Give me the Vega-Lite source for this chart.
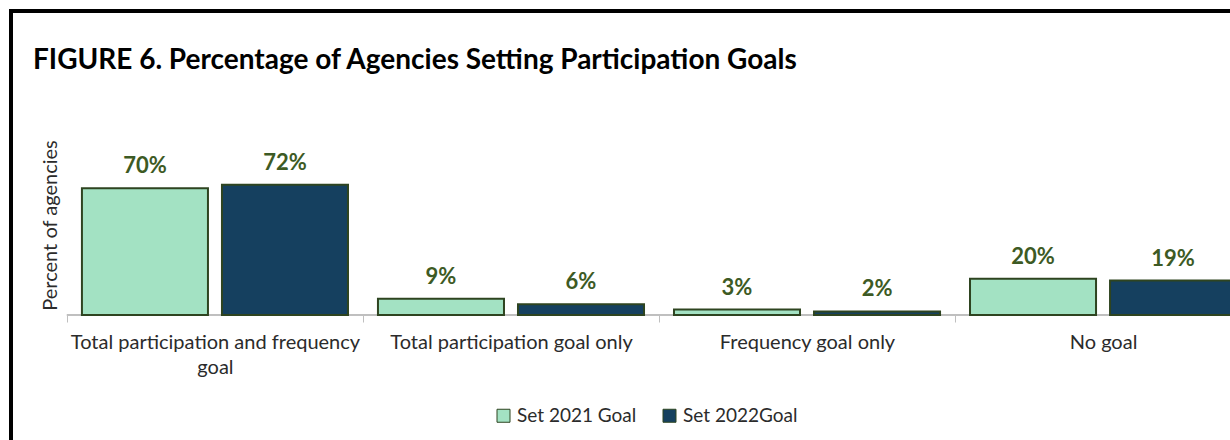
{
  "$schema": "https://vega.github.io/schema/vega-lite/v6.json",
  "width": 1296,
  "height": 440,
  "autosize": {"type": "none"},
  "padding": {"left": 11, "top": 11, "right": 0, "bottom": 0},
  "background": "white",
  "config": {
    "font": "Lato",
    "view": {"stroke": "#000000", "strokeWidth": 4}
  },
  "title": {
    "text": "FIGURE 6. Percentage of Agencies Setting Participation Goals",
    "anchor": "start",
    "frame": "group",
    "fontSize": 28,
    "fontWeight": "bold",
    "color": "#000000",
    "offset": 0,
    "baseline": "alphabetic",
    "dx": 22,
    "dy": 86
  },
  "data": {
    "values": [
      {"category": "Total participation and frequency goal", "series": "Set 2021 Goal", "value": 0.70},
      {"category": "Total participation and frequency goal", "series": "Set 2022Goal", "value": 0.72},
      {"category": "Total participation goal only", "series": "Set 2021 Goal", "value": 0.09},
      {"category": "Total participation goal only", "series": "Set 2022Goal", "value": 0.06},
      {"category": "Frequency goal only", "series": "Set 2021 Goal", "value": 0.03},
      {"category": "Frequency goal only", "series": "Set 2022Goal", "value": 0.02},
      {"category": "No goal", "series": "Set 2021 Goal", "value": 0.20},
      {"category": "No goal", "series": "Set 2022Goal", "value": 0.19}
    ]
  },
  "encoding": {
    "x": {
      "field": "category",
      "type": "nominal",
      "sort": ["Total participation and frequency goal", "Total participation goal only", "Frequency goal only", "No goal"],
      "scale": {"paddingInner": 0, "paddingOuter": 0.189},
      "axis": {
        "title": null,
        "labelAngle": 0,
        "domain": false,
        "tickBand": "extent",
        "tickColor": "#bfbfbf",
        "tickSize": 7,
        "labelFontSize": 20,
        "labelColor": "#2b2b2b",
        "labelPadding": 10,
        "labelLineHeight": 25,
        "labelLimit": 400,
        "offset": -136,
        "labelExpr": "datum.label == 'Total participation and frequency goal' ? ['Total participation and frequency', 'goal'] : datum.label"
      }
    },
    "xOffset": {
      "field": "series",
      "type": "nominal",
      "scale": {"paddingInner": 0.1, "paddingOuter": 0.107}
    },
    "y": {
      "field": "value",
      "type": "quantitative",
      "scale": {"domain": [-0.7514, 1.6796], "nice": false, "zero": false},
      "axis": {
        "title": "Percent of agencies",
        "labels": false,
        "ticks": false,
        "domain": false,
        "grid": false,
        "titleFontSize": 20,
        "titleFontWeight": "normal",
        "titleColor": "#2b2b2b",
        "titleX": 39,
        "titleY": 214,
        "titleAngle": -90,
        "titleBaseline": "middle"
      }
    }
  },
  "layer": [
    {
      "mark": {"type": "rule", "color": "#bfbfbf", "strokeWidth": 1},
      "encoding": {
        "x": {"datum": "Total participation and frequency goal", "bandPosition": 0},
        "x2": {"datum": "No goal", "bandPosition": 1},
        "xOffset": null,
        "y": {"datum": 0}
      }
    },
    {
      "mark": {"type": "bar", "stroke": "#2e4420", "strokeWidth": 2},
      "encoding": {
        "y2": {"datum": 0},
        "color": {
          "field": "series",
          "type": "nominal",
          "scale": {"domain": ["Set 2021 Goal", "Set 2022Goal"], "range": ["#a3e2c3", "#15405f"]},
          "legend": {
            "title": null,
            "orient": "none",
            "legendX": 483,
            "legendY": 395,
            "direction": "horizontal",
            "symbolType": "square",
            "symbolSize": 169,
            "symbolStrokeColor": "#2e4420",
            "symbolStrokeWidth": 1,
            "symbolOpacity": 1,
            "labelFontSize": 19,
            "labelColor": "#2b2b2b",
            "labelOffset": 4,
            "columnPadding": 23,
            "padding": 0
          }
        }
      }
    },
    {
      "mark": {"type": "text", "baseline": "middle", "dy": -22, "fontSize": 22, "fontWeight": "bold", "color": "#3d5a24"},
      "encoding": {
        "text": {"field": "value", "type": "quantitative", "format": ".0%"}
      }
    }
  ]
}
